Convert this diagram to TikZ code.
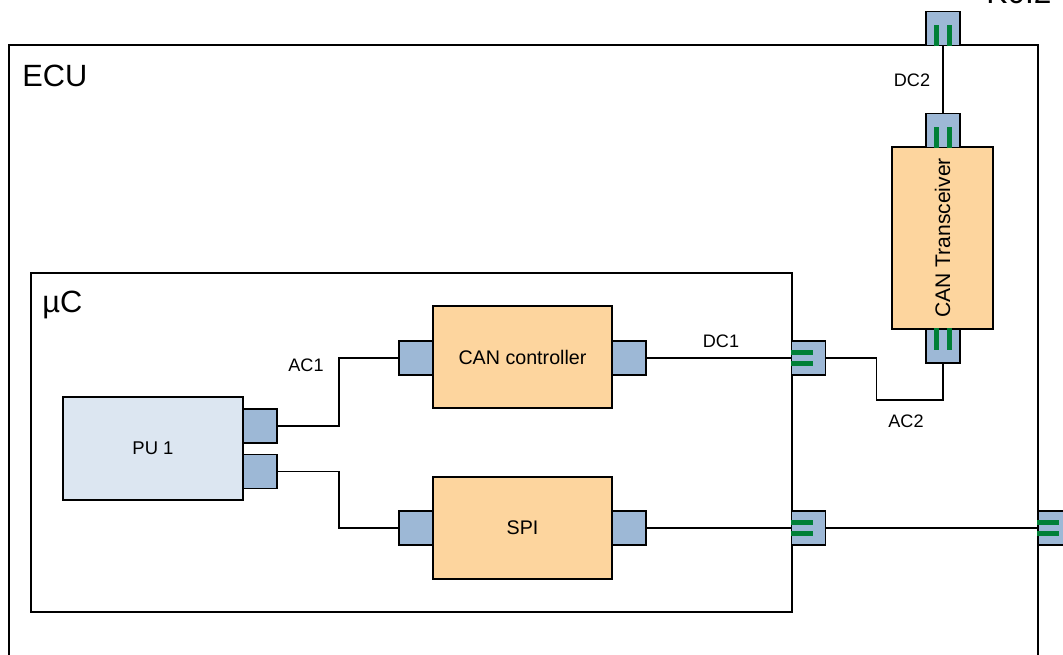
\documentclass[tikz,border=0pt]{standalone}
\usepackage{fontspec}
\setmainfont{Liberation Sans}
\usetikzlibrary{fit,calc}

\definecolor{portblue}{RGB}{157,184,214}
\definecolor{boxorange}{RGB}{253,213,158}
\definecolor{pugrey}{RGB}{220,230,241}
\definecolor{bargreen}{RGB}{0,128,55}

\tikzset{
    frame/.style={draw, line width=1.1pt, inner sep=0pt},
    block/.style={frame, fill=boxorange, minimum width=3.58cm, minimum height=2.04cm, font=\fontsize{11.2}{13}\selectfont},
    port/.style={draw, line width=1.1pt, fill=portblue, minimum size=0.68cm, inner sep=0pt},
    wire/.style={line width=0.8pt},
    lbl/.style={inner sep=0pt, font=\fontsize{10.3}{12}\selectfont},
    title/.style={inner sep=0pt, anchor=base west, font=\fontsize{17.5}{20}\selectfont},
    bar/.style={bargreen, line width=0.1cm}
}
\newcommand\hbars[1]{\draw[bar] ($(#1.west)+(0,-5.5)$) -- ++(22,0) ($(#1.west)+(0,5.5)$) -- ++(22,0);}
\newcommand\vbars[3]{\draw[bar] ($(#1.#2)+(-6.5,0)$) -- ++(0,#3) ($(#1.#2)+(6.5,0)$) -- ++(0,#3);}

\begin{document}
\begin{tikzpicture}[x=0.02cm, y=-0.02cm]
    \useasboundingbox (0,0) rectangle (1063,655);

    \node[frame, fit={(9,45) (1038,720)}] (ecu) {};
    \node[title] (ecutitle) at (22,87) {ECU};
    \node[title, anchor=base, font=\fontsize{18}{20}\selectfont] (k02) at (1019,4) {K0.2};

    \node[frame, fit={(31,273) (792,612)}] (uc) {};
    \node[title] (uctitle) at (42,313) {µC};

    \node[frame, fill=pugrey, minimum width=3.6cm, minimum height=2.06cm, font=\fontsize{10.5}{13}\selectfont] (pu) at (153,448.5) {PU 1};
    \node[block] (canc) at (522.5,357) {CAN controller};
    \node[block] (spi) at (522.5,528) {SPI};
    \node[block, minimum width=2.02cm, minimum height=3.64cm] (cant) at (942.5,238) {};
    \node[inner sep=0pt, rotate=90, font=\fontsize{12}{14}\selectfont] (canttext) at (cant.center) {CAN Transceiver};

    \node[port] (pup1) at (260,426) {};
    \node[port] (pup2) at (260,471.5) {};
    \node[port] (canl) at (416,358) {};
    \node[port] (canr) at (629,358) {};
    \node[port] (spil) at (416,528) {};
    \node[port] (spir) at (629,528) {};
    \node[port] (ucpa) at (808.5,358) {};
    \node[port] (ucpb) at (808.5,528) {};
    \node[port] (ecur) at (1055,528) {};
    \node[port] (ecut) at (943,28.5) {};
    \node[port] (cantt) at (943,130.5) {};
    \node[port] (cantb) at (943,346) {};

    \hbars{ucpa}
    \hbars{ucpb}
    \hbars{ecur}
    \vbars{ecut}{south}{-21}
    \vbars{cantt}{south}{-21}
    \vbars{cantb}{north}{22}

    \draw[wire] (ecut.south) -- (cantt.north);
    \draw[wire] (pup1.east) -- ++(61,0) |- (canl.west);
    \draw[wire] (pup2.east) -- ++(61,0) |- (spil.west);
    \draw[wire] (canr.east) -- (ucpa.west);
    \draw[wire] (ucpa.east) -- ++(50,0) |- ($(cantb.south)+(0,36)$) -- (cantb.south);
    \draw[wire] (spir.east) -- (ucpb.west);
    \draw[wire] (ucpb.east) -- (ecur.west);

    \node[lbl] (ac1) at (306,365) {AC1};
    \node[lbl] (dc1) at (721,341) {DC1};
    \node[lbl] (dc2) at (912,80) {DC2};
    \node[lbl] (ac2) at (906,421) {AC2};
\end{tikzpicture}
\end{document}
